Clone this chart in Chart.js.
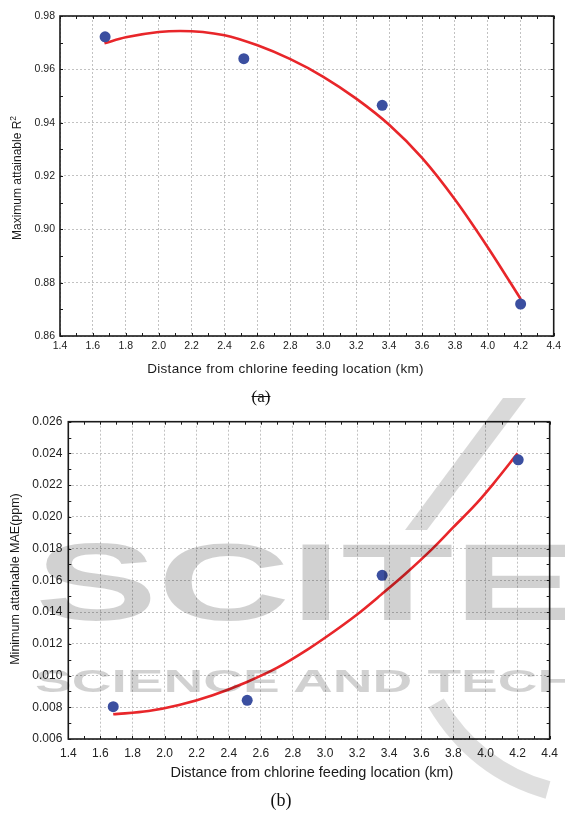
<!DOCTYPE html>
<html><head><meta charset="utf-8">
<script src="https://cdn.jsdelivr.net/npm/chart.js@4"></script>
<style>
html,body{margin:0;padding:0;background:#fff;}
#wrap{position:relative;width:565px;height:814px;overflow:hidden;font-family:"Liberation Sans",Arial,sans-serif;}
canvas{position:absolute;left:0;}
#ca{top:0;} #cb{top:400px;} #wmc{top:0;pointer-events:none;}
.cap{position:absolute;font-family:"Liberation Serif","Times New Roman",serif;color:#111;width:60px;text-align:center;line-height:20px;}
.ttl{position:absolute;white-space:nowrap;color:#1a1a1a;font-family:"Liberation Sans",Arial,sans-serif;line-height:1.2;}
.wm{position:absolute;font-family:"Liberation Sans",Arial,sans-serif;font-weight:bold;color:rgba(0,0,0,0.18);white-space:nowrap;transform-origin:0 0;pointer-events:none;line-height:1;}
</style></head><body>
<div id="wrap">
<canvas id="ca" width="565" height="380" style="width:565px;height:380px"></canvas>
<canvas id="cb" width="565" height="385" style="width:565px;height:385px"></canvas>
<div class="ttl" style="left:285.5px;top:369px;font-size:13.5px;letter-spacing:0.3px;transform:translate(-50%,-50%)">Distance from chlorine feeding location (km)</div>
<div class="ttl" style="left:17px;top:178px;font-size:12px;transform:translate(-50%,-50%) rotate(-90deg)">Maximum attainable R<sup style="font-size:70%;line-height:0">2</sup></div>
<div class="ttl" style="left:312px;top:773px;font-size:14.5px;transform:translate(-50%,-50%)">Distance from chlorine feeding location (km)</div>
<div class="ttl" style="left:15px;top:579px;font-size:12.5px;transform:translate(-50%,-50%) rotate(-90deg)">Minimum attainable MAE(ppm)</div>
<div class="cap" style="left:231px;top:387px;font-size:17px;text-decoration:line-through;">(a)</div>
<div class="cap" style="left:251px;top:790px;font-size:18px;">(b)</div>
<div class="wm" style="left:35px;top:527px;font-size:110px;transform:scaleX(1.67)">SCITE</div>
<div class="wm" style="left:35px;top:665px;font-size:32px;transform:scaleX(1.72)">SCIENCE AND TECH</div>
<canvas id="wmc" width="565" height="814" style="width:565px;height:814px"></canvas>
</div>
<script>
// ---- data ----
const xTicks = [1.4,1.6,1.8,2.0,2.2,2.4,2.6,2.8,3.0,3.2,3.4,3.6,3.8,4.0,4.2,4.4];
const aYTicks = [0.86,0.88,0.90,0.92,0.94,0.96,0.98];
const bYTicks = [0.006,0.008,0.010,0.012,0.014,0.016,0.018,0.020,0.022,0.024,0.026];

const aDist = [1.674, 2.517, 3.358, 4.199];
const aR2   = [0.9722, 0.9640, 0.9465, 0.8720];
const aFitDist = [1.67, 1.8, 2.0, 2.13, 2.4, 2.6, 2.8, 3.0, 3.2, 3.4, 3.6, 3.8, 4.0, 4.2];
const aFitR2   = [0.9698, 0.9720, 0.9740, 0.9744, 0.9728, 0.9690, 0.9638, 0.9572, 0.9490, 0.9392, 0.9268, 0.9112, 0.8932, 0.8738];

const bDist = [1.680, 2.515, 3.356, 4.204];
const bMAE  = [0.00804, 0.00844, 0.01632, 0.02360];
const bFitDist = [1.68, 1.9, 2.09, 2.3, 2.51, 2.7, 2.9, 3.0, 3.2, 3.35, 3.5, 3.67, 3.8, 3.94, 4.05, 4.2];
const bFitMAE  = [0.00756, 0.00776, 0.00814, 0.00876, 0.00958, 0.01048, 0.01170, 0.01238, 0.01385, 0.01510, 0.01640, 0.01800, 0.01935, 0.02080, 0.02210, 0.02400];

// ---- frame + inward ticks plugin ----
const framePlugin = {
  id: 'frame',
  beforeDatasetsDraw(chart, args, opts) {
    const {ctx, chartArea: {left, right, top, bottom}, scales: {x, y}} = chart;
    ctx.save();
    ctx.strokeStyle = '#1a1a1a';
    ctx.lineWidth = 1;
    const L = 3;
    const line = (x1, y1, x2, y2) => { ctx.beginPath(); ctx.moveTo(x1, y1); ctx.lineTo(x2, y2); ctx.stroke(); };
    const nx = Math.round((x.max - x.min) / opts.xStep);
    for (let i = 0; i <= nx; i++) {
      const px = Math.round(x.getPixelForValue(x.min + i * opts.xStep)) + 0.5;
      line(px, bottom, px, bottom - L); line(px, top, px, top + L);
    }
    const ny = Math.round((y.max - y.min) / opts.yStep);
    for (let i = 0; i <= ny; i++) {
      const py = Math.round(y.getPixelForValue(y.min + i * opts.yStep)) + 0.5;
      line(left, py, left + L, py); line(right, py, right - L, py);
    }
    ctx.lineWidth = 1.6;
    ctx.strokeRect(left, top, right - left, bottom - top);
    ctx.restore();
  }
};

function makeChart(id, p) {
  return new Chart(document.getElementById(id), {
    type: 'scatter',
    data: {
      datasets: [
        { data: p.px.map((v, i) => ({x: v, y: p.py[i]})), backgroundColor: '#3b4fa0', borderWidth: 0,
          pointRadius: 5.5, pointHoverRadius: 5.5, showLine: false, order: 0 },
        { data: p.fx.map((v, i) => ({x: v, y: p.fy[i]})), borderColor: '#e8262a', borderWidth: 2.6,
          pointRadius: 0, showLine: true, cubicInterpolationMode: 'monotone', fill: false, order: 1 }
      ]
    },
    options: {
      responsive: false, animation: false, events: [],
      layout: { padding: p.pad },
      plugins: { legend: {display: false}, tooltip: {enabled: false}, frame: {xStep: 0.1, yStep: p.yMinor} },
      scales: {
        x: {
          type: 'linear', min: 1.4, max: 4.4,
          afterBuildTicks: s => { s.ticks = xTicks.map(v => ({value: v})); },
          afterFit: s => { s.height = p.xH; },
          ticks: { callback: v => Number(v).toFixed(1), color: '#222', padding: p.xPad, maxRotation: 0,
                   font: {family: 'Liberation Sans, Arial, sans-serif', size: p.fs} },
          grid: { color: '#c2c2c2', lineWidth: 1, drawTicks: false },
          border: { display: false, dash: [2, 2] }
        },
        y: {
          type: 'linear', min: p.yT[0], max: p.yT[p.yT.length - 1],
          afterBuildTicks: s => { s.ticks = p.yT.map(v => ({value: v})); },
          afterFit: s => { s.width = p.yW; },
          ticks: { callback: v => Number(v).toFixed(p.dec), color: '#222', padding: p.yPad,
                   font: {family: 'Liberation Sans, Arial, sans-serif', size: p.fs} },
          grid: { color: '#c2c2c2', lineWidth: 1, drawTicks: false },
          border: { display: false, dash: [2, 2] }
        }
      }
    },
    plugins: [framePlugin]
  });
}

makeChart('ca', { px: aDist, py: aR2, fx: aFitDist, fy: aFitR2, yT: aYTicks, dec: 2, yMinor: 0.01,
  pad: {top: 16, right: 9, left: 0, bottom: 0}, yW: 60, xH: 44, fs: 10.5, xPad: 4, yPad: 5 });
makeChart('cb', { px: bDist, py: bMAE, fx: bFitDist, fy: bFitMAE, yT: bYTicks, dec: 3, yMinor: 0.001,
  pad: {top: 21.7, right: 9.7, left: 0, bottom: 0}, yW: 68.3, xH: 46, fs: 12, xPad: 7, yPad: 6 });

// ---- faint publisher watermark shapes (decoration, not data) ----
(function () {
  const c = document.getElementById('wmc').getContext('2d');
  c.fillStyle = 'rgba(0,0,0,0.15)';
  c.strokeStyle = 'rgba(0,0,0,0.13)';
  c.beginPath();
  c.moveTo(503, 398); c.lineTo(526, 398); c.lineTo(427, 530); c.lineTo(405, 530); c.closePath();
  c.fill();
  c.lineWidth = 18; c.lineCap = 'butt';
  c.beginPath();
  c.moveTo(436, 703); c.quadraticCurveTo(476, 770, 548, 790);
  c.stroke();
})();
</script>
</body></html>
